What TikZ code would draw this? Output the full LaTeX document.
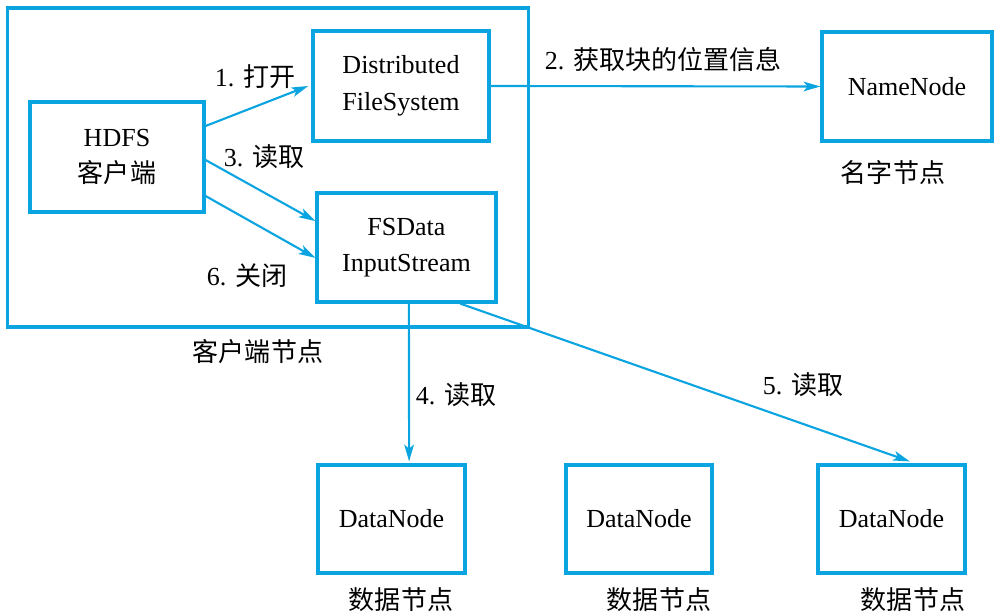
\documentclass[tikz,border=0pt]{standalone}
\usepackage{fontspec}
\setmainfont{Liberation Serif}
\newfontfamily\cjk{Noto Sans CJK SC}
\usetikzlibrary{arrows.meta}
\definecolor{hdfsblue}{RGB}{10,165,225}

\begin{document}
\begin{tikzpicture} [x=0.025cm, y=-0.025cm]
\tikzstyle{every node}=[font=\fontsize{18.5}{26}\selectfont, align=center];
\tikzstyle{box}=[draw=hdfsblue, line width=2.2pt];
\tikzstyle{flow}=[draw=hdfsblue, line width=1.5pt, -{Stealth[length=0.42cm, width=0.24cm, inset=0.1cm]}];
\useasboundingbox (0, 0) rectangle (1000, 616);
\node [box, minimum width=13cm, minimum height=7.975cm] (client) at (268, 167.5) {};
\node [box, minimum width=4.35cm, minimum height=2.75cm] (hdfs) at (117, 157) {HDFS\\{\cjk 客户端}};
\node [box, minimum width=4.4cm, minimum height=2.75cm] (dfs) at (401, 86) {Distributed\\FileSystem};
\node [box, minimum width=4.475cm, minimum height=2.725cm] (fsd) at (406.5, 247.5) {FSData\\InputStream};
\node [box, minimum width=4.25cm, minimum height=2.725cm] (nn) at (907, 86.5) {NameNode};
\node [box, minimum width=3.675cm, minimum height=2.7cm] (dn1) at (391.5, 519) {DataNode};
\node [box, minimum width=3.65cm, minimum height=2.7cm] (dn2) at (639, 519) {DataNode};
\node [box, minimum width=3.675cm, minimum height=2.7cm] (dn3) at (891.5, 519) {DataNode};
\node (lclient) at (258, 352) {\cjk 客户端节点};
\node (lnn) at (893, 173) {\cjk 名字节点};
\node (ldn1) at (401, 600) {\cjk 数据节点};
\node (ldn2) at (659, 600) {\cjk 数据节点};
\node (ldn3) at (913, 600) {\cjk 数据节点};
\draw [flow] ([yshift=0.775cm]hdfs.east) -- ([xshift=-0.08cm]dfs.west);
\draw [flow] ([yshift=-0.075cm]hdfs.east) -- ([yshift=0.66cm]fsd.west);
\draw [flow] ([yshift=-0.975cm]hdfs.east) -- ([yshift=-0.26cm]fsd.west);
\draw [flow] (dfs.east) -- (nn.west);
\draw [flow] ([xshift=0.06cm]fsd.south) -- ([xshift=0.44cm, yshift=0.05cm]dn1.north);
\draw [flow] ([xshift=1.34cm]fsd.south) -- ([xshift=0.46cm, yshift=0.05cm]dn3.north);
\node (l1) at (255, 77) {1. {\cjk 打开}};
\node (l3) at (264, 157) {3. {\cjk 读取}};
\node (l6) at (247, 276) {6. {\cjk 关闭}};
\node (l2) at (663, 60) {2. {\cjk 获取块的位置信息}};
\node (l4) at (456, 395) {4. {\cjk 读取}};
\node (l5) at (803, 385) {5. {\cjk 读取}};
\end{tikzpicture}
\end{document}
